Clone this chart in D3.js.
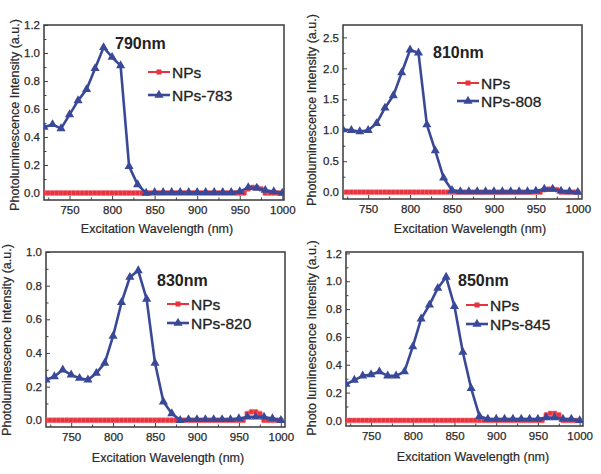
<!DOCTYPE html>
<html><head><meta charset="utf-8">
<script src="https://cdn.jsdelivr.net/npm/d3@7"></script>
<style>
body{margin:0;background:#fff}
svg{display:block}
text{font-family:"Liberation Sans",Arial,Helvetica,sans-serif}
</style>
</head><body>
<svg id="chart" width="601" height="474"></svg>
<script>
// ---------- DATA ----------
const blueWavelengths = [720,730,740,750,760,770,780,790,800,810,820,830,840,850,860,870,880,890,900,910,920,930,940,950,960,970,980,990,1000];
const redWavelengths = [720,725,730,735,740,745,750,755,760,765,770,775,780,785,790,795,800,805,810,815,820,825,830,835,840,845,850,855,860,865,870,875,880,885,890,895,900,905,910,915,920,925,930,935,940,945,950,955,960,965,970,975,980,985,990,995,1000];

const blue783 = [0.47,0.49,0.46,0.56,0.66,0.74,0.89,1.04,0.97,0.91,0.19,0.06,0.0,0.005,0.005,0.005,0.005,0.005,0.005,0.005,0.005,0.005,0.005,0.01,0.04,0.035,0.02,0.01,0.0];
const blue808 = [1.01,1.00,0.98,1.00,1.11,1.36,1.56,1.93,2.30,2.25,1.09,0.67,0.23,0.03,0.01,0.01,0.01,0.01,0.01,0.01,0.01,0.01,0.01,0.02,0.05,0.05,0.02,0.01,0.0];
const blue820 = [0.24,0.26,0.30,0.27,0.25,0.24,0.28,0.34,0.50,0.70,0.85,0.89,0.72,0.34,0.11,0.04,0.0,0.005,0.005,0.005,0.005,0.005,0.005,0.01,0.02,0.02,0.02,0.01,0.0];
const blue845 = [0.26,0.29,0.32,0.33,0.35,0.32,0.32,0.35,0.53,0.73,0.83,0.95,1.03,0.82,0.49,0.23,0.03,0.01,0.01,0.01,0.01,0.01,0.01,0.01,0.02,0.02,0.01,0.01,0.0];

const redNPs1 = [0,0,0,0,0,0,0,0,0,0,0,0,0,0,0,0,0,0,0,0,0,0,0,0,0,0,0,0,0,0,0,0,0,0,0,0,0,0,0,0,0,0,0,0,0,0,0,0,0.03,0.04,0.04,0.03,0,0,0,0,0];
const redNPs2 = [0,0,0,0,0,0,0,0,0,0,0,0,0,0,0,0,0,0,0,0,0,0,0,0,0,0,0,0,0,0,0,0,0,0,0,0,0,0,0,0,0,0,0,0,0,0,0,0,0.04,0.05,0.05,0.04,0,0,0,0,0];
const redNPs3 = [0,0,0,0,0,0,0,0,0,0,0,0,0,0,0,0,0,0,0,0,0,0,0,0,0,0,0,0,0,0,0,0,0,0,0,0,0,0,0,0,0,0,0,0,0,0,0,0,0.04,0.05,0.05,0.04,0,0,0,0,0];
const redNPs4 = [0,0,0,0,0,0,0,0,0,0,0,0,0,0,0,0,0,0,0,0,0,0,0,0,0,0,0,0,0,0,0,0,0,0,0,0,0,0,0,0,0,0,0,0,0,0,0,0,0.04,0.05,0.05,0.04,0,0,0,0,0];

const xTickValues = [750,800,850,900,950,1000];
const xMinorTicks = [725,775,825,875,925,975];
const yTicks12 = [0.0,0.2,0.4,0.6,0.8,1.0,1.2];
const yTicks25 = [0.0,0.5,1.0,1.5,2.0,2.5];
const yTicks10 = [0.0,0.2,0.4,0.6,0.8,1.0];
const peakLabels = ["790nm","810nm","830nm","850nm"];
const legendNames = ["NPs","NPs-783","NPs-808","NPs-820","NPs-845"];
const xTitle = "Excitation Wavelength (nm)";
const yTitles = ["Photoluminescence Intensity (a.u.)","Photoluminescence Intensity (a.u.)","Photoluminescence Intensity (a.u.)","Photo luminescence Intensity (a.u.)"];

// ---------- LAYOUT ----------
const panels = [
  {blue:blue783, red:redNPs1, peak:peakLabels[0], leg:legendNames[1], yTicks:yTicks12, yMinorStep:0.1,
   xDom:[720,1002], xR:[44,284], yDom:[-0.05,1.2], yR:[200,25],
   peakX:115, peakY:49, legX:148, legY1:72, legY2:95, xtX:157, xtY:233, ytX:19, ytY:115, yTitle:yTitles[0]},
  {blue:blue808, red:redNPs2, peak:peakLabels[1], leg:legendNames[2], yTicks:yTicks25, yMinorStep:0.25,
   xDom:[720,1005], xR:[343,582], yDom:[-0.11,2.7], yR:[199,25],
   peakX:433, peakY:58, legX:457, legY1:83, legY2:101, xtX:470, xtY:233, ytX:316, ytY:110, yTitle:yTitles[1]},
  {blue:blue820, red:redNPs3, peak:peakLabels[2], leg:legendNames[3], yTicks:yTicks10, yMinorStep:0.1,
   xDom:[720,1005], xR:[46,285], yDom:[-0.04,1.0], yR:[427,252],
   peakX:157, peakY:286, legX:167, legY1:304, legY2:323, xtX:168, xtY:462, ytX:11, ytY:340, yTitle:yTitles[2]},
  {blue:blue845, red:redNPs4, peak:peakLabels[3], leg:legendNames[4], yTicks:yTicks12, yMinorStep:0.1,
   xDom:[720,1004], xR:[346,583], yDom:[-0.04,1.21], yR:[426,252],
   peakX:458, peakY:286, legX:466, legY1:305, legY2:324, xtX:473, xtY:461, ytX:316, ytY:338, yTitle:yTitles[3]}
];

const BLUE = "#3a4898";
const RED = "#e8323e";
const TEXT = "#2a2a2a";

const svg = d3.select("#chart");

panels.forEach(p => {
  const g = svg.append("g");
  const x = d3.scaleLinear().domain(p.xDom).range(p.xR);
  const y = d3.scaleLinear().domain(p.yDom).range(p.yR);

  const cid = "clip" + p.peak;
  g.append("clipPath").attr("id", cid).append("rect")
    .attr("x", p.xR[0]).attr("y", p.yR[1]).attr("width", p.xR[1]-p.xR[0]).attr("height", p.yR[0]-p.yR[1]);

  const xAxis = d3.axisBottom(x).tickValues(xTickValues).tickSize(-4).tickPadding(6).tickFormat(d3.format("d"));
  const xa = g.append("g").attr("transform", `translate(0,${p.yR[0]})`).call(xAxis);
  const xMin = d3.axisBottom(x).tickValues(xMinorTicks).tickSize(-2.5).tickFormat("");
  const xm = g.append("g").attr("transform", `translate(0,${p.yR[0]})`).call(xMin);

  const yAxis = d3.axisLeft(y).tickValues(p.yTicks).tickSize(-4).tickPadding(4).tickFormat(d3.format(".1f"));
  const ya = g.append("g").attr("transform", `translate(${p.xR[0]},0)`).call(yAxis);
  const minorY = [];
  for (let v = p.yTicks[0] + p.yMinorStep; v < p.yDom[1]; v += 2*p.yMinorStep) minorY.push(+v.toFixed(3));
  const yMin = d3.axisLeft(y).tickValues(minorY).tickSize(-2.5).tickFormat("");
  const ym = g.append("g").attr("transform", `translate(${p.xR[0]},0)`).call(yMin);

  [xa,xm,ya,ym].forEach(a => {
    a.select(".domain").remove();
    a.selectAll("line").attr("stroke", "#444").attr("stroke-width", 1);
    a.selectAll("text").attr("fill", TEXT).style("font-size", "11.5px")
      .style("font-family", "'Liberation Sans',Arial,sans-serif")
      .attr("stroke", TEXT).attr("stroke-width", 0.25);
  });

  g.append("rect").attr("x", p.xR[0]).attr("y", p.yR[1])
    .attr("width", p.xR[1]-p.xR[0]).attr("height", p.yR[0]-p.yR[1])
    .attr("fill", "none").attr("stroke", "#3a3a3a").attr("stroke-width", 1.5);

  const plot = g.append("g").attr("clip-path", `url(#${cid})`);

  // red series (NPs)
  const redPts = redWavelengths.map((w,i) => [w, p.red[i]]);
  plot.append("path").datum(redPts)
    .attr("d", d3.line().x(d => x(d[0])).y(d => y(d[1])))
    .attr("fill","none").attr("stroke", RED).attr("stroke-width", 1.6);
  plot.selectAll(".sq").data(redPts).enter().append("rect")
    .attr("x", d => x(d[0]) - 2.4).attr("y", d => y(d[1]) - 2.4)
    .attr("width", 4.8).attr("height", 4.8).attr("rx", 1)
    .attr("fill", RED).attr("stroke", "#f06a72").attr("stroke-width", 0.6);

  // blue series
  const bluePts = blueWavelengths.map((w,i) => [w, p.blue[i]]);
  plot.append("path").datum(bluePts)
    .attr("d", d3.line().x(d => x(d[0])).y(d => y(d[1])))
    .attr("fill","none").attr("stroke", BLUE).attr("stroke-width", 2.6).attr("stroke-linejoin","round");
  const tri = d3.symbol().type(d3.symbolTriangle).size(36);
  plot.selectAll(".tri").data(bluePts).enter().append("path")
    .attr("d", tri).attr("transform", d => `translate(${x(d[0])},${y(d[1])})`)
    .attr("fill", BLUE);

  g.append("text").attr("x", p.peakX).attr("y", p.peakY).text(p.peak)
    .attr("fill", "#222").style("font-size", "16px").style("font-weight", "bold");

  const lw = 22;
  g.append("line").attr("x1", p.legX).attr("x2", p.legX+lw).attr("y1", p.legY1).attr("y2", p.legY1)
    .attr("stroke", RED).attr("stroke-width", 2);
  g.append("rect").attr("x", p.legX+lw/2-2.5).attr("y", p.legY1-2.5).attr("width",5).attr("height",5).attr("fill", RED);
  g.append("text").attr("x", p.legX+lw+2).attr("y", p.legY1+5.5).text(legendNames[0])
    .attr("fill", "#222").style("font-size", "15.5px").attr("stroke", "#222").attr("stroke-width", 0.3);
  g.append("line").attr("x1", p.legX).attr("x2", p.legX+lw).attr("y1", p.legY2).attr("y2", p.legY2)
    .attr("stroke", BLUE).attr("stroke-width", 2.6);
  g.append("path").attr("d", tri).attr("transform", `translate(${p.legX+lw/2},${p.legY2})`).attr("fill", BLUE);
  g.append("text").attr("x", p.legX+lw+2).attr("y", p.legY2+5.5).text(p.leg)
    .attr("fill", "#222").style("font-size", "15.5px").attr("stroke", "#222").attr("stroke-width", 0.3);

  g.append("text").attr("x", p.xtX).attr("y", p.xtY).attr("text-anchor","middle").text(xTitle)
    .attr("fill", TEXT).style("font-size", "12.5px").attr("stroke", TEXT).attr("stroke-width", 0.2);
  g.append("text").attr("transform", `translate(${p.ytX},${p.ytY}) rotate(-90)`).attr("text-anchor","middle")
    .text(p.yTitle).attr("fill", TEXT).style("font-size", "12.5px").attr("stroke", TEXT).attr("stroke-width", 0.2);
});
</script>
</body></html>
